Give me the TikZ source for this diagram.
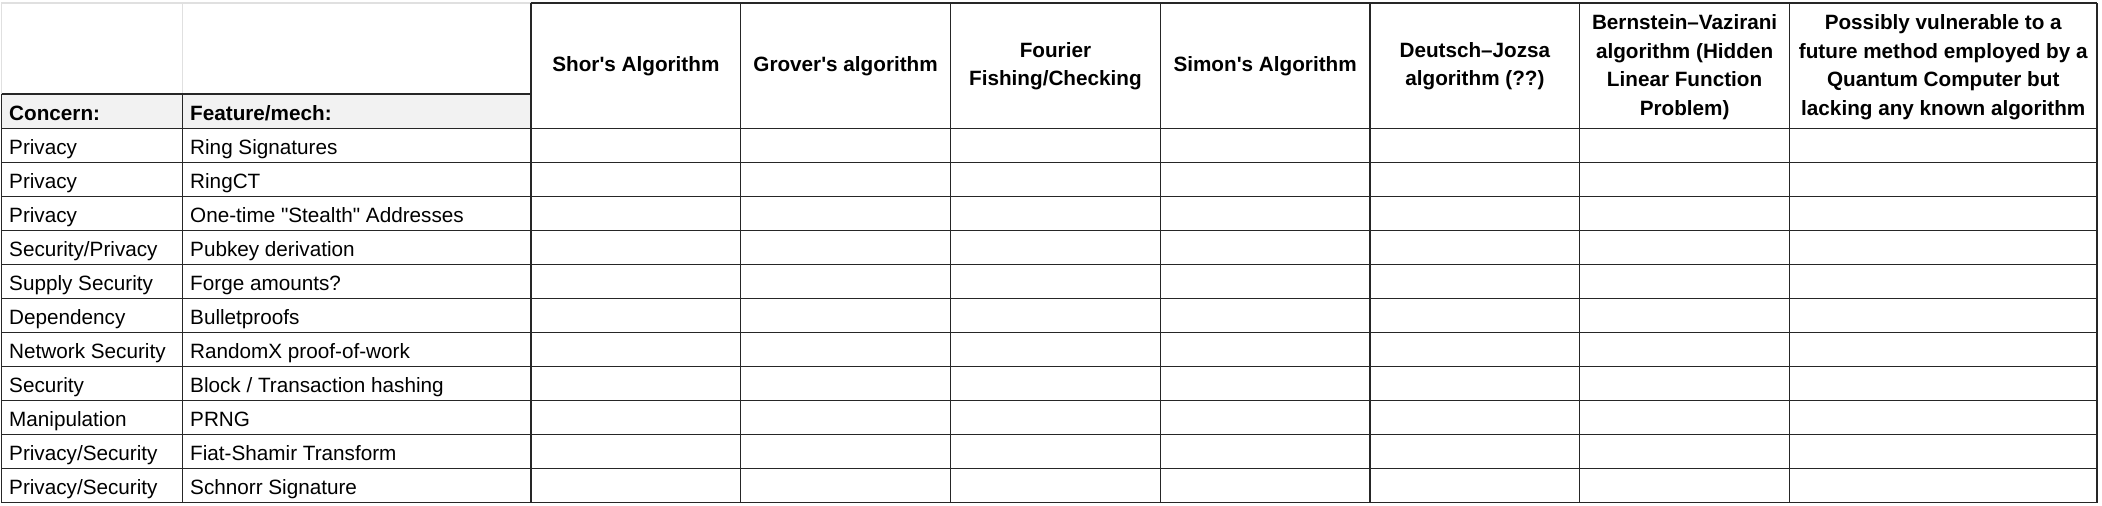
\documentclass[tikz,border=0pt]{standalone}
\usepackage{fontspec}
\newfontfamily\tabfont{Liberation Sans}
\begin{document}
\begin{tikzpicture}[x=1pt,y=-1pt,
  grid/.style={draw=black!85, line width=1.3pt},
  light/.style={draw=black!12, line width=1.2pt},
  body/.style={anchor=base west, inner sep=0pt, font=\tabfont\fontsize{20.7}{24}\selectfont},
  head/.style={anchor=center, align=center, inner sep=0pt, font=\tabfont\fontsize{20.7}{28.5}\selectfont\bfseries},
  colhead/.style={anchor=base west, inner sep=0pt, font=\tabfont\fontsize{20.7}{24}\selectfont\bfseries}]
\useasboundingbox (0,0) rectangle (2102,506);
% shaded sub-header
\fill[black!5] (1.5,94) rectangle (531,128.5);
% light gridlines of the empty top-left cells
\draw[light] (1.5,94) -- (1.5,3) -- (531,3);
\draw[light] (182.5,3) -- (182.5,94);
% dark borders
\draw[grid] (1.5,94) -- (531,94);
\draw[grid] (531,3) -- (2097,3);
\foreach \k in {0,...,11} {
  \draw[grid] (1.5,128.5+34*\k) -- (2097,128.5+34*\k);
}
\foreach \xx in {1.5,182.5} {
  \draw[grid] (\xx,94) -- (\xx,502.5);
}
\foreach \xx in {531,740.75,950.5,1160.25,1370,1579.75,1789.5,2097} {
  \draw[grid] (\xx,3) -- (\xx,502.5);
}
% header texts
\node[colhead] (hc) at (9,120) {Concern:};
\node[colhead] (hf) at (190,120) {Feature/mech:};
\node[head] (h1) at (635.9,66) {Shor's Algorithm};
\node[head] (h2) at (845.6,66) {Grover's algorithm};
\node[head] (h3) at (1055.4,66) {Fourier\\Fishing/Checking};
\node[head] (h4) at (1265.1,66) {Simon's Algorithm};
\node[head] (h5) at (1474.9,66) {Deutsch–Jozsa\\algorithm (??)};
\node[head] (h6) at (1684.6,67) {Bernstein–Vazirani\\algorithm (Hidden\\Linear Function\\Problem)};
\node[head] (h7) at (1943.25,67) {Possibly vulnerable to a\\future method employed by a\\Quantum Computer but\\lacking any known algorithm};
% body rows
\foreach \c/\f [count=\i] in {
  Privacy/Ring Signatures,
  Privacy/RingCT,
  Privacy/One-time "Stealth" Addresses,
  Security\slash Privacy/Pubkey derivation,
  Supply Security/Forge amounts?,
  Dependency/Bulletproofs,
  Network Security/RandomX proof-of-work,
  Security/Block \slash\ Transaction hashing,
  Manipulation/PRNG,
  Privacy\slash Security/Fiat-Shamir Transform,
  Privacy\slash Security/Schnorr Signature} {
  \node[body] (c\i) at (9,128.5+34*\i-8.5) {\c};
  \node[body] (f\i) at (190,128.5+34*\i-8.5) {\f};
}
\end{tikzpicture}
\end{document}
